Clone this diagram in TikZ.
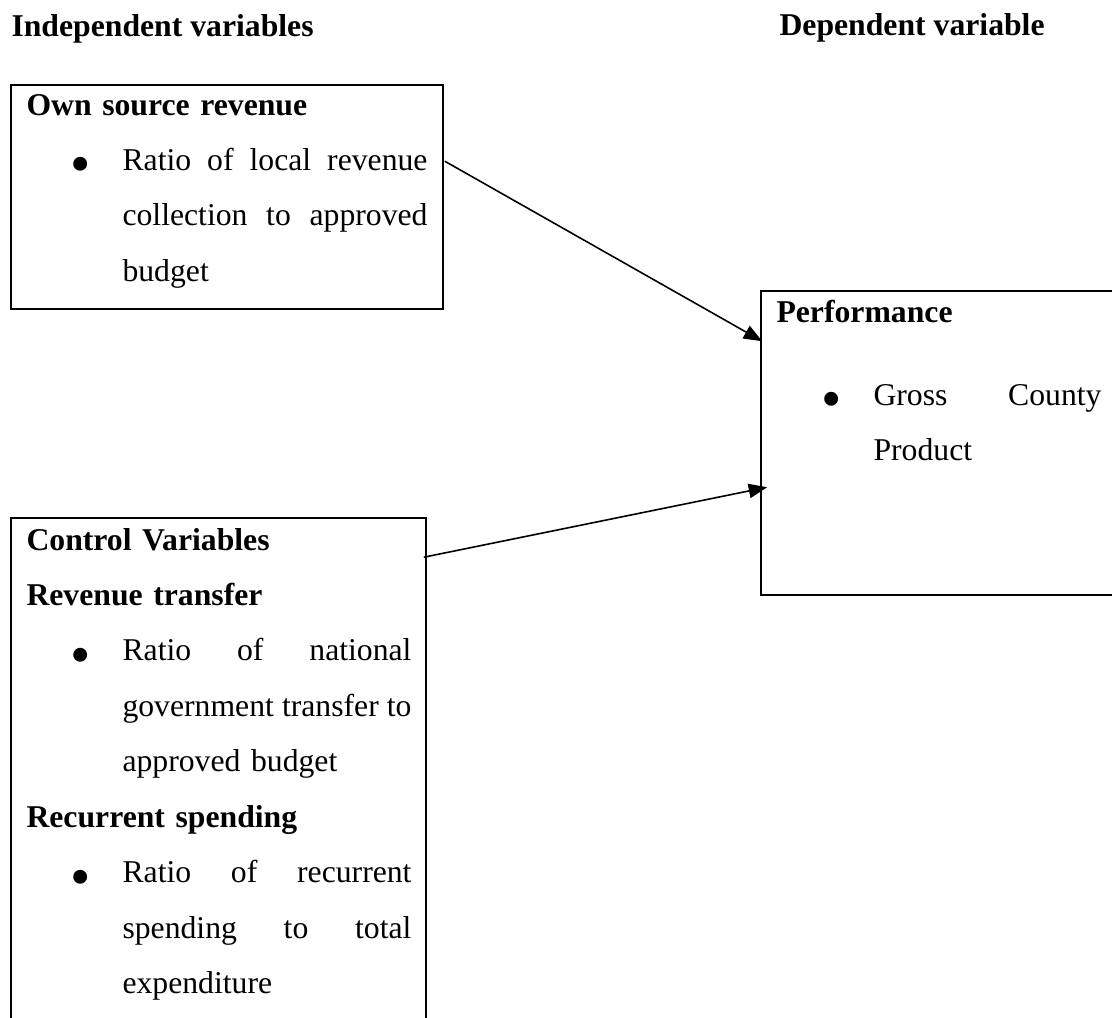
\documentclass[tikz,border=0pt]{standalone}
\usepackage{fontspec}
\setmainfont{Liberation Serif}
\usepackage{tikz}
\usetikzlibrary{arrows.meta, fit, calc}

% one pixel of the drawing
\newdimen\pxu \pxu=0.3785pt
\newcommand{\bigdot}{\raisebox{-5pt}{\fontsize{22}{22}\selectfont\textbullet}}
\newcommand{\itemdot}{\hspace*{44\pxu}\makebox[52\pxu][l]{\bigdot}}
\newcommand{\itemgap}{\hspace*{96\pxu}}
\newcommand{\jline}[2]{\hbox to #1\pxu{\spaceskip=0.25em plus 1fil\relax #2}}

\begin{document}
\begin{tikzpicture}[
  x=0.3785pt, y=-0.3785pt,
  box/.style={draw, line width=0.6pt, inner sep=0pt},
  head/.style={anchor=base west, inner sep=0pt, font=\fontsize{12}{21}\selectfont\bfseries},
  blk/.style={anchor=base west, inner sep=0pt, text width=160pt, font=\fontsize{12}{21}\selectfont},
  arr/.style={-{Triangle[length=7pt, width=5.4pt]}, line width=0.6pt},
]
\useasboundingbox (0,0) rectangle (1112,1017);
\clip (0,0) rectangle (1112,1017);

% headings
\node[head] (indep) at (11,37) {Independent variables};
\node[head] (dep) at (779,36) {Dependent variable};

% own source revenue
\node[box, fit={(11,85) (443,309)}] (own) {};
\node[blk] (owntxt) at (26,115) {\textbf{Own source revenue}\\
  \itemdot\jline{305}{Ratio of local revenue}\\
  \itemgap\jline{305}{collection to approved}\\
  \itemgap budget};

% performance
\node[box, fit={(761,291) (1140,595)}] (perf) {};
\node[blk] (perftxt) at (776,322) {\textbf{Performance}\\[10.5pt]
  \hspace*{45\pxu}\makebox[52\pxu][l]{\bigdot}\jline{228}{Gross County}\\
  \hspace*{97\pxu}Product};

% control variables
\node[box, fit={(11,518) (426,1050)}] (ctrl) {};
\node[blk] (ctrltxt) at (26,550) {\textbf{Control Variables}\\
  \textbf{Revenue transfer}\\
  \itemdot\jline{289}{Ratio of national}\\
  \itemgap\jline{289}{government transfer to}\\
  \itemgap approved budget\\
  \textbf{Recurrent spending}\\
  \itemdot\jline{289}{Ratio of recurrent}\\
  \itemgap\jline{289}{spending to total}\\
  \itemgap expenditure};

% arrows into performance
\draw[arr] ($(own.north east)+(1,77)$) -- ($(perf.north west)+(2,51)$);
\draw[arr] ($(ctrl.north east)+(-3,40)$) -- ($(perf.north west)+(7,197)$);

\end{tikzpicture}
\end{document}
